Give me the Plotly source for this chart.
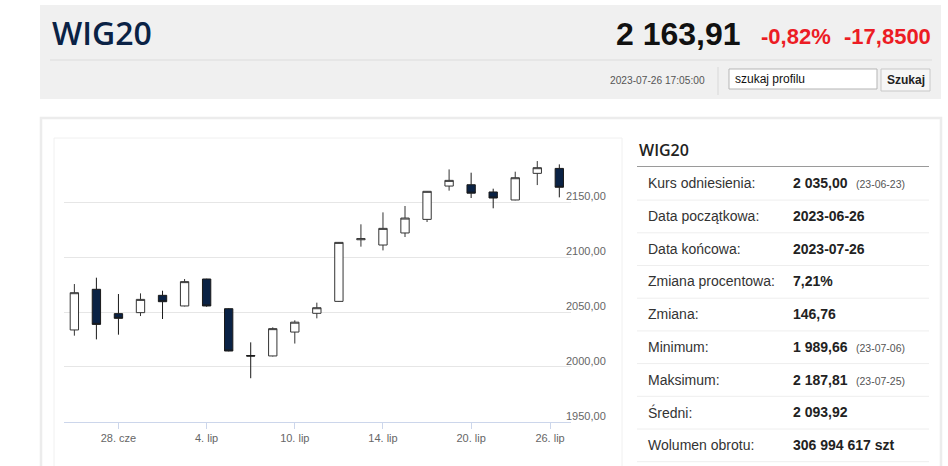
import plotly.graph_objects as go

# WIG20 daily candles, 26.06 - 26.07.2023
dates = ['2023-06-26', '2023-06-27', '2023-06-28', '2023-06-29', '2023-06-30',
         '2023-07-03', '2023-07-04', '2023-07-05', '2023-07-06', '2023-07-07',
         '2023-07-10', '2023-07-11', '2023-07-12', '2023-07-13', '2023-07-14',
         '2023-07-17', '2023-07-18', '2023-07-19', '2023-07-20', '2023-07-21',
         '2023-07-24', '2023-07-25', '2023-07-26']
opens = [2033.7, 2070.8, 2048.6, 2049.5, 2065.3, 2055.6, 2080.2, 2053.1, 2010.4, 2010.0,
         2031.8, 2048.9, 2059.8, 2116.0, 2111.2, 2122.2, 2134.6, 2165.0, 2166.2, 2159.6,
         2152.3, 2176.6, 2181.1]
highs = [2075.6, 2081.4, 2066.5, 2067.1, 2069.5, 2080.2, 2080.4, 2053.5, 2022.4, 2036.1,
         2042.5, 2058.6, 2113.9, 2130.1, 2141.0, 2146.8, 2160.4, 2180.2, 2177.2, 2162.6,
         2178.1, 2187.81, 2184.8]
lows = [2028.5, 2025.1, 2029.4, 2046.4, 2043.7, 2055.2, 2054.9, 2014.2, 1989.66, 2009.5,
        2021.3, 2044.3, 2059.5, 2109.7, 2106.3, 2118.5, 2132.2, 2160.8, 2154.1, 2144.7,
        2152.0, 2165.9, 2154.7]
closes = [2067.7, 2038.8, 2044.3, 2061.6, 2059.5, 2077.8, 2055.6, 2014.5, 2009.9, 2034.9,
          2040.8, 2054.0, 2113.6, 2117.0, 2126.4, 2135.8, 2160.2, 2170.2, 2158.5, 2154.1,
          2172.6, 2181.76, 2163.91]

# x labels (ordinal axis: last candle stamped 17:05, so midnight of 26.07 sits at ~21.58)
x_tick_pos = [2, 6, 10, 14, 18, 21.58]
x_tick_text = ['28. cze', '4. lip', '10. lip', '14. lip', '20. lip', '26. lip']
y_tick_vals = [1950, 2000, 2050, 2100, 2150, 2200]
y_tick_text = ['1950,00', '2000,00', '2050,00', '2100,00', '2150,00', '']

# quote header
name = 'WIG20'
last_price = '2 163,91'
change_pct = '-0,82%'
change_abs = '-17,8500'
quote_time = '2023-07-26 17:05:00'

# summary table
row_labels = ['Kurs odniesienia:', 'Data początkowa:', 'Data końcowa:', 'Zmiana procentowa:',
              'Zmiana:', 'Minimum:', 'Maksimum:', 'Średni:', 'Wolumen obrotu:']
row_values = ['2 035,00', '2023-06-26', '2023-07-26', '7,21%', '146,76',
              '1 989,66', '2 187,81', '2 093,92', '306 994 617 szt']
row_notes = ['(23-06-23)', '', '', '', '', '(23-07-06)', '(23-07-25)', '', '']

W, H = 948, 466
FONT = 'Arial, Liberation Sans, sans-serif'
NAVY = '#0a2245'
RED = '#ec1c24'


def px(x):
    return x / W


def py(y):
    return 1 - y / H


fig = go.Figure()
fig.add_trace(go.Candlestick(
    x=list(range(len(dates))), open=opens, high=highs, low=lows, close=closes,
    text=dates, hoverinfo='text+y',
    increasing=dict(fillcolor='white', line=dict(color='#333333', width=1)),
    decreasing=dict(fillcolor=NAVY, line=dict(color='#1a1a1a', width=1)),
    showlegend=False))

shapes = []
annos = []


def rect(x0, y0, x1, y1, fill=None, line=None, lw=1):
    shapes.append(dict(type='rect', xref='paper', yref='paper',
                       x0=px(x0), x1=px(x1), y0=py(y1), y1=py(y0),
                       fillcolor=fill or 'rgba(0,0,0,0)',
                       line=dict(color=line or 'rgba(0,0,0,0)', width=lw if line else 0),
                       layer='below'))


def hline(x0, x1, y, color, lw=1):
    shapes.append(dict(type='line', xref='paper', yref='paper',
                       x0=px(x0), x1=px(x1), y0=py(y), y1=py(y),
                       line=dict(color=color, width=lw)))


def text(x, y, s, size, color='#333', weight='normal', anchor='left', family=FONT):
    annos.append(dict(xref='paper', yref='paper', x=px(x), y=py(y), text=s,
                      showarrow=False, xanchor=anchor, yanchor='middle',
                      font=dict(size=size, color=color, family=family, weight=weight)))


# header box
rect(40, 5, 941, 99, fill='#f0f0f0')
hline(50, 932, 60, '#dcdcdc')
text(50, 32, name, 32, NAVY, 600, family='Open Sans, sans-serif')
text(743, 34, last_price, 32, '#111', 'bold', anchor='right')
text(759, 36, change_pct, 22, RED, 'bold')
text(842, 36, change_abs, 22, RED, 'bold')
text(707, 80, quote_time, 10.2, '#555', anchor='right')
shapes.append(dict(type='line', xref='paper', yref='paper', x0=px(718), x1=px(718),
                   y0=py(95), y1=py(67), line=dict(color='#d8d8d8', width=1)))
rect(729, 69, 877, 89, fill='white', line='#b5b5b5')
text(733, 79, 'szukaj profilu', 12, '#111')
rect(881, 69, 930, 91, fill='#f6f6f6', line='#c8c8c8')
text(905.5, 80, 'Szukaj', 12, '#222', 'bold', anchor='center')

# content frames
rect(41, 118, 941, 475, line='#ececec', lw=2.5)
rect(54, 138, 622, 475, line='#f0f0f0', lw=1)

# summary table
text(637, 150, name, 16, '#222', 600, family='Open Sans, sans-serif')
hline(637, 929, 166.5, '#9a9a9a')
for i, (lab, val, note) in enumerate(zip(row_labels, row_values, row_notes)):
    yc = 183.3 + i * 32.7
    text(646, yc, lab, 14, '#333')
    text(791, yc, val, 14, '#222', 'bold')
    if note:
        text(854, yc + 1, note, 10.5, '#555')
    hline(637, 929, yc + 16.8, '#eeeeee')

fig.update_layout(
    width=W, height=H,
    margin=dict(l=0, r=0, t=0, b=0),
    paper_bgcolor='white', plot_bgcolor='white',
    boxgap=0.46,
    shapes=shapes, annotations=annos,
    xaxis=dict(domain=[px(64), px(571)], range=[-0.47, 22.53],
               tickvals=x_tick_pos, ticktext=x_tick_text,
               ticks='outside', ticklen=6, tickcolor='#ccd6eb',
               showline=True, linecolor='#ccd6eb', linewidth=1,
               showgrid=False, zeroline=False, rangeslider=dict(visible=False),
               tickfont=dict(size=11, color='#666', family=FONT)),
    yaxis=dict(domain=[py(421.7), py(147.7)], range=[1950, 2200], side='right',
               tickvals=y_tick_vals, ticktext=y_tick_text,
               gridcolor='#e6e6e6', showline=False, zeroline=False, ticks='',
               ticklabelshift=-6, ticklabelstandoff=-6,
               tickfont=dict(size=11, color='#666', family=FONT)),
)

# page fills the whole window, so drop the browser's default body margin
fig.write_html('out.html', config={'responsive': False, 'displayModeBar': False},
               post_script="document.body.style.margin='0';")
